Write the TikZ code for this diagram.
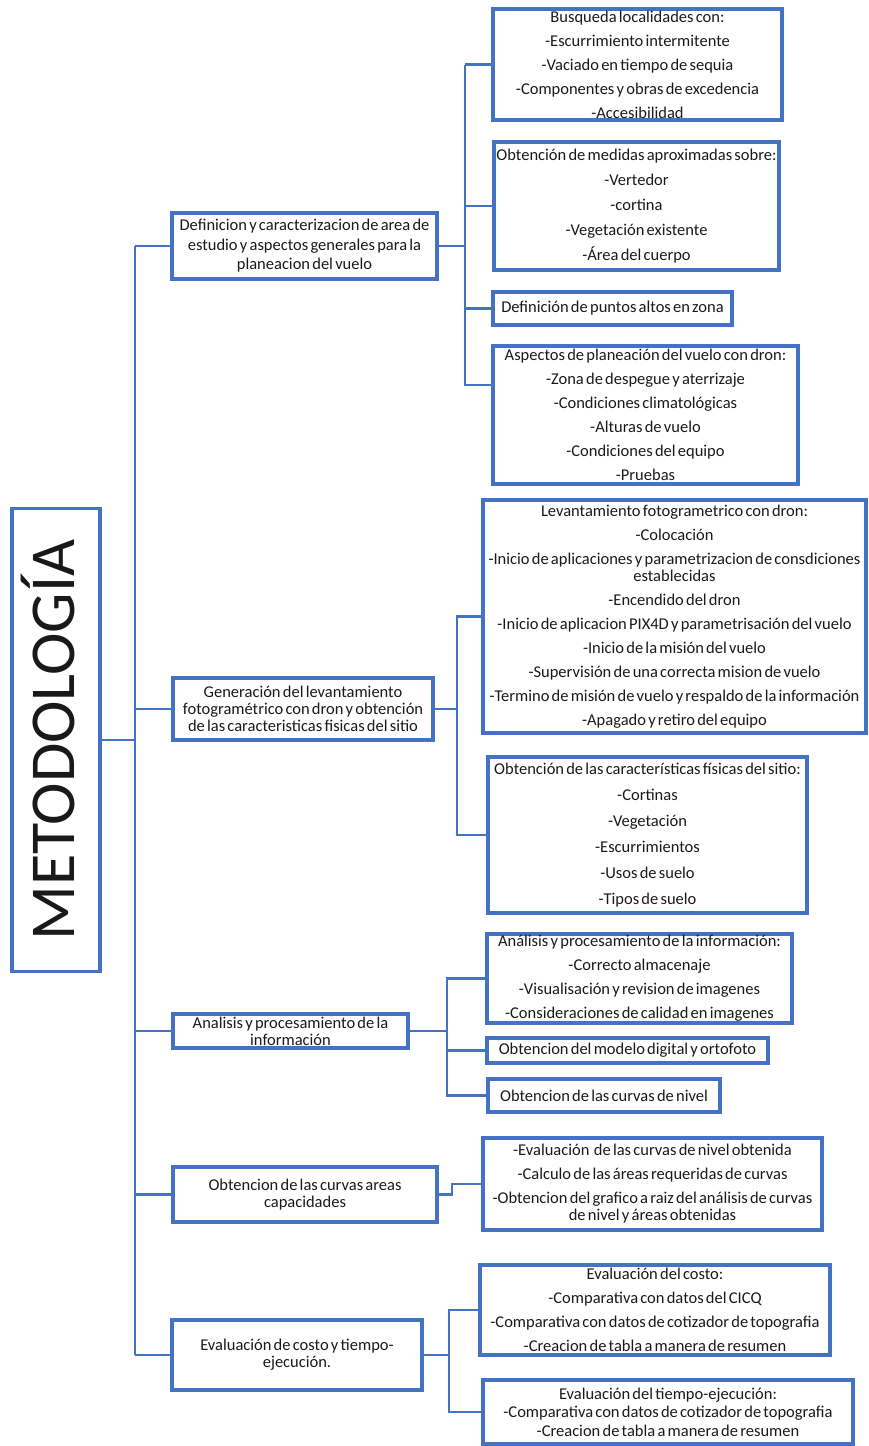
\documentclass[tikz,border=0pt]{standalone}
\usepackage{graphicx}
\usepackage{fontspec}
\setmainfont{Carlito}[WordSpace=0.6]
\definecolor{azul}{HTML}{4472C4}
\newcommand{\salto}{\\[7pt]}
\begin{document}
\begin{tikzpicture}[x=1pt,y=-1pt,
	box/.style={draw=azul,line width=3.2pt,inner sep=0pt,align=center,text=black!90,font=\fontsize{16.5}{17}\selectfont},
	link/.style={draw=azul,line width=2.2pt}]
		\useasboundingbox (0,0) rectangle (868,1446);
		%\draw[red] (0,0) rectangle (868,1446);
		\node[box,minimum width=88pt,minimum height=463pt] (M) at (56,740) {\rotatebox{90}{\fontsize{64}{64}\selectfont METODOLOGÍA\rule[-16pt]{0pt}{16pt}}};
		\node[box,minimum width=265pt,minimum height=66pt,font=\fontsize{16.5}{19.5}\selectfont] (P1) at (304.5,246) {Definicion y caracterizacion de area de\\estudio y aspectos generales para la\\planeacion del vuelo};
		\node[box,minimum width=260pt,minimum height=62pt] (P2) at (303,709) {Generación del levantamiento\\fotogramétrico con dron y obtención\\de las caracteristicas fisicas del sitio};
		\node[box,minimum width=235pt,minimum height=34pt] (P3) at (290.5,1031) {Analisis y procesamiento de la\\información};
		\node[box,minimum width=264pt,minimum height=55pt] (P4) at (305,1194.5) {Obtencion de las curvas areas\\capacidades};
		\node[box,minimum width=250pt,minimum height=70pt] (P5) at (297,1355) {Evaluación de costo y tiempo-\\ejecución.};
		\node[box,minimum width=289pt,minimum height=111pt] (A) at (637.5,64.5) {Busqueda localidades con:\salto -Escurrimiento intermitente\salto -Vaciado en tiempo de sequia\salto -Componentes y obras de excedencia\salto -Accesibilidad};
		\node[box,minimum width=285pt,minimum height=128pt] (B) at (636.5,206) {Obtención de medidas aproximadas sobre:\\[8pt] -Vertedor\\[8pt] -cortina\\[8pt] -Vegetación existente\\[8pt] -Área del cuerpo};
		\node[box,minimum width=239pt,minimum height=33pt] (C) at (612.5,308.5) {Definición de puntos altos en zona};
		\node[box,minimum width=305pt,minimum height=138pt] (D) at (645.5,415) {Aspectos de planeación del vuelo con dron:\salto -Zona de despegue y aterrizaje\salto -Condiciones climatológicas\salto -Alturas de vuelo\salto -Condiciones del equipo\salto -Pruebas};
		\node[box,minimum width=383pt,minimum height=233pt] (E) at (674.5,616.5) {Levantamiento fotogrametrico con dron:\salto -Colocación\salto -Inicio de aplicaciones y parametrizacion de consdiciones\\establecidas\salto -Encendido del dron\salto -Inicio de aplicacion PIX4D y parametrisación del vuelo\salto -Inicio de la misión del vuelo\salto -Supervisión de una correcta mision de vuelo\salto -Termino de misión de vuelo y respaldo de la información\salto -Apagado y retiro del equipo};
		\node[box,minimum width=319pt,minimum height=156pt] (F) at (647.5,835) {Obtención de las características físicas del sitio:\\[9pt] -Cortinas\\[9pt] -Vegetación\\[9pt] -Escurrimientos\\[9pt] -Usos de suelo\\[9pt] -Tipos de suelo};
		\node[box,minimum width=305pt,minimum height=89pt] (G) at (639.5,978.5) {Análisis y procesamiento de la información:\salto -Correcto almacenaje\salto -Visualisación y revision de imagenes\salto -Consideraciones de calidad en imagenes};
		\node[box,minimum width=281pt,minimum height=25pt] (H) at (627.5,1050.5) {Obtencion del modelo digital y ortofoto};
		\node[box,minimum width=232pt,minimum height=33pt] (I) at (604,1095.5) {Obtencion de las curvas de nivel};
		\node[box,minimum width=339pt,minimum height=92pt] (J) at (652.5,1184) {-Evaluación\ \ de las curvas de nivel obtenida\salto -Calculo de las áreas requeridas de curvas\salto -Obtencion del grafico a raiz del análisis de curvas\\de nivel y áreas obtenidas};
		\node[box,minimum width=350pt,minimum height=90pt] (K) at (655,1310) {Evaluación del costo:\salto -Comparativa con datos del CICQ\salto -Comparativa con datos de cotizador de topografia\salto -Creacion de tabla a manera de resumen};
		\node[box,minimum width=370pt,minimum height=64pt,font=\fontsize{16.5}{18.5}\selectfont] (L) at (668,1412) {Evaluación del tiempo-ejecución:\\-Comparativa con datos de cotizador de topografia\\-Creacion de tabla a manera de resumen};
		\coordinate (T) at (135,740);
		\coordinate (R1) at (465,0);
		\coordinate (R2) at (457,0);
		\coordinate (R3) at (447,0);
		\coordinate (R4) at (452,0);
		\coordinate (R5) at (449,0);
		\coordinate (Din) at ([yshift=30pt]D.west);
		\draw[link] (M.east) -- (T);
		\draw[link] (T |- P1.west) -- (T |- P5.west);
		\foreach \p in {P1,P2,P3,P4,P5}
			\draw[link] (T |- \p.west) -- (\p.west);
		\draw[link] (P1.east) -- (R1 |- P1.east);
		\draw[link] (R1 |- A.west) -- (R1 |- Din) -- (Din);
		\foreach \q in {A,B,C}
			\draw[link] (R1 |- \q.west) -- (\q.west);
		\draw[link] (P2.east) -- (R2 |- P2.east);
		\draw[link] (E.west) -| (R2 |- F.west) -- (F.west);
		\draw[link] (P3.east) -- (R3 |- P3.east);
		\draw[link] (G.west) -| (R3 |- I.west) -- (I.west);
		\draw[link] (R3 |- H.west) -- (H.west);
		\draw[link] (P4.east) -| (R4 |- J.west) -- (J.west);
		\draw[link] (P5.east) -- (R5 |- P5.east);
		\draw[link] (K.west) -| (R5 |- L.west) -- (L.west);
	\end{tikzpicture}
\end{document}
